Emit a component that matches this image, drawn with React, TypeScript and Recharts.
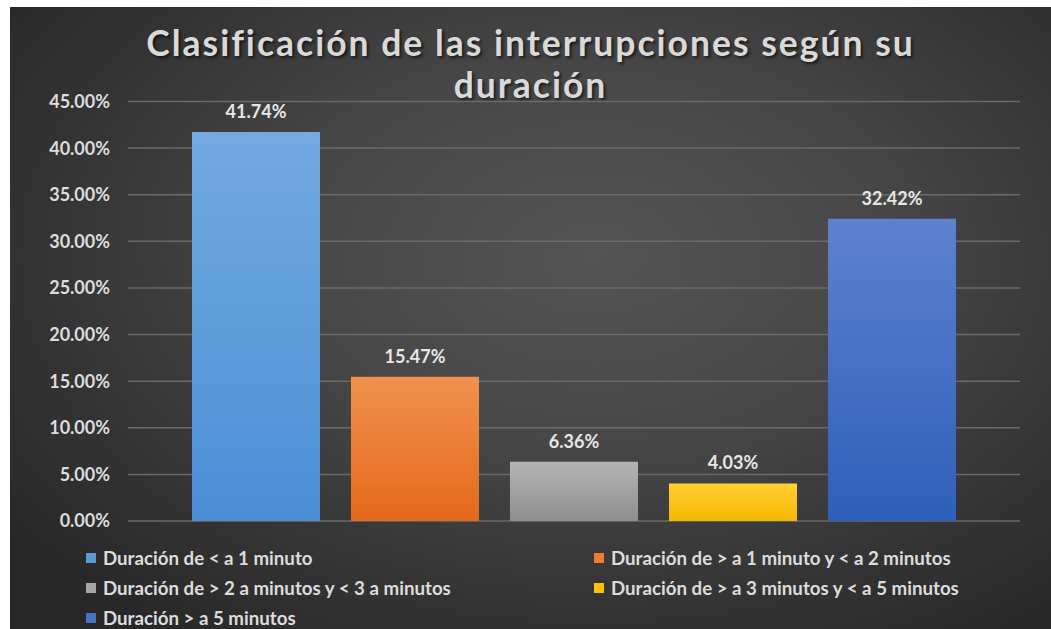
import React from 'react';
import { BarChart, Bar, XAxis, YAxis, CartesianGrid, LabelList, Legend } from 'recharts';

const titleLines = ['Clasificación de las interrupciones según su', 'duración'];
const seriesNames = [
  'Duración de < a 1 minuto',
  'Duración de > a 1 minuto y < a 2 minutos',
  'Duración de > 2 a minutos y < 3 a minutos',
  'Duración de > a 3 minutos y < a 5 minutos',
  'Duración > a 5 minutos',
];
const seriesValues = [41.74, 15.47, 6.36, 4.03, 32.42];
const yTicks = [0, 5, 10, 15, 20, 25, 30, 35, 40, 45];
const topColors = ['#74a9e1', '#f1914f', '#b4b4b4', '#ffd033', '#5d82cf'];
const bottomColors = ['#4a8fd6', '#e4691a', '#8e8e8e', '#f3b700', '#2e5fb9'];
const swatchColors = ['#5b9bd5', '#ed7d31', '#a5a5a5', '#ffc000', '#4472c4'];

const keys = seriesNames.map((_, i) => 's' + i);
const data = [
  keys.reduce((acc: any, k, i) => {
    acc[k] = seriesValues[i];
    return acc;
  }, { name: 'cat' }),
];

const FONT = 'Lato, "Open Sans", sans-serif';
const TXT = '#dcdcdc';

const W = 1041;
const H = 622;

const renderLegend = (props: any) => {
  const payload = [...(props.payload || [])].sort(
    (a: any, b: any) => keys.indexOf(a.dataKey) - keys.indexOf(b.dataKey)
  );
  return (
    <div
      style={{
        display: 'grid',
        gridTemplateColumns: '508px 1fr',
        paddingLeft: 76,
        height: 90,
        fontFamily: FONT,
        fontWeight: 700,
        fontSize: 18.7,
        color: TXT,
      }}
    >
      {payload.map((p: any) => {
        const idx = keys.indexOf(p.dataKey);
        return (
          <div key={p.dataKey} style={{ height: 30, display: 'flex', alignItems: 'center', whiteSpace: 'nowrap' }}>
            <span style={{ display: 'inline-block', width: 10, height: 10, background: swatchColors[idx], marginRight: 7 }} />
            <span>{p.value}</span>
          </div>
        );
      })}
    </div>
  );
};

export default function App() {
  return (
    <div style={{ position: 'absolute', left: 0, top: 0, width: 1051, height: 629, background: '#ffffff' }}>
      <div
        style={{
          position: 'absolute',
          left: 10,
          top: 7,
          width: W,
          height: H,
          background: 'radial-gradient(ellipse 70% 75% at 56% 40%, #545454 0%, #474747 40%, #343434 75%, #282828 100%)',
          overflow: 'hidden',
        }}
      >
        <div
          style={{
            position: 'absolute',
            left: 0,
            top: 15,
            width: W,
            textAlign: 'center',
            fontFamily: FONT,
            fontSize: 35.5,
            fontWeight: 700,
            lineHeight: '42px',
            letterSpacing: 2,
            color: '#d9d9d9',
            textShadow: '2px 2px 3px rgba(0,0,0,0.6)',
          }}
        >
          <div>{titleLines[0]}</div>
          <div>{titleLines[1]}</div>
        </div>
        <BarChart
          width={W}
          height={H}
          data={data}
          margin={{ top: 94.5, right: 31, bottom: 18, left: 18 }}
          barCategoryGap={64}
          barGap={31}
          style={{ position: 'absolute', left: 0, top: 0 }}
        >
          <defs>
            {keys.map((k, i) => (
              <linearGradient key={k} id={'grad' + i} x1="0" y1="0" x2="0" y2="1">
                <stop offset="0%" stopColor={topColors[i]} />
                <stop offset="100%" stopColor={bottomColors[i]} />
              </linearGradient>
            ))}
          </defs>
          <CartesianGrid vertical={false} stroke="#6a6a6a" strokeWidth={1.5} />
          <XAxis dataKey="name" hide />
          <YAxis
            width={100}
            domain={[0, 45]}
            ticks={yTicks}
            interval={0}
            axisLine={false}
            tickLine={false}
            tickMargin={12}
            tickFormatter={(v: number) => v.toFixed(2) + '%'}
            tick={{ fill: TXT, fontFamily: FONT, fontWeight: 700, fontSize: 18 }}
          />
          <Legend
            content={renderLegend}
            wrapperStyle={{ top: 536, left: 0, width: W, height: 90 }}
          />
          {keys.map((k, i) => (
            <Bar key={k} dataKey={k} name={seriesNames[i]} fill={'url(#grad' + i + ')'} isAnimationActive={false}>
              <LabelList
                dataKey={k}
                position="top"
                offset={14}
                formatter={(v: number) => v.toFixed(2) + '%'}
                style={{ fill: '#e6e6e6', fontFamily: FONT, fontWeight: 700, fontSize: 18 }}
              />
            </Bar>
          ))}
        </BarChart>
      </div>
    </div>
  );
}
